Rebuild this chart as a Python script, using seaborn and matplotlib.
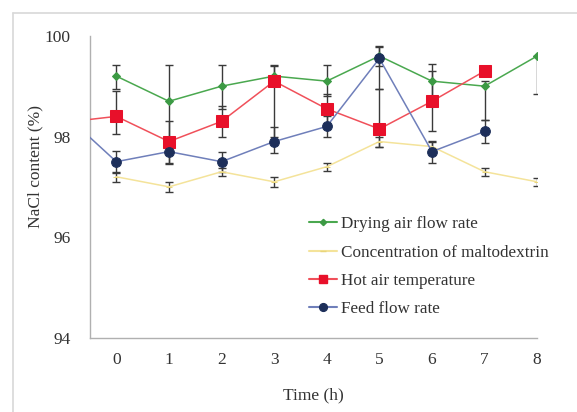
import numpy as np
import pandas as pd
import seaborn as sns
from matplotlib import pyplot as plt
from matplotlib.lines import Line2D

# time points (h); -1 is only there so red/blue lines run in from the left edge
time = [-1, 0, 1, 2, 3, 4, 5, 6, 7, 8]

drying_air = [np.nan, 99.2, 98.7, 99.0, 99.2, 99.1, 99.6, 99.1, 99.0, 99.6]
drying_lo = [0, 0.25, 0.72, 0.45, 0.2, 0.3, 0.2, 0.35, 0.68, 0.75]
drying_hi = [0, 0.22, 0.72, 0.42, 0.22, 0.32, 0.2, 0.34, 0.1, 0.0]

maltodextrin = [np.nan, 97.2, 97.0, 97.3, 97.1, 97.4, 97.9, 97.8, 97.3, 97.1]
malto_err = [0, 0.1, 0.1, 0.08, 0.1, 0.08, 0.1, 0.1, 0.08, 0.08]

hot_air = [98.28, 98.4, 97.9, 98.3, 99.1, 98.55, 98.15, 98.7, 99.3, np.nan]
hot_lo = [0, 0.35, 0.42, 0.3, 1.1, 0.3, 0.35, 0.6, 0.1, 0]
hot_hi = [0, 0.5, 0.4, 0.3, 0.3, 0.3, 0.8, 0.6, 0.1, 0]

feed_flow = [98.46, 97.5, 97.7, 97.5, 97.9, 98.2, 99.55, 97.7, 98.1, np.nan]
feed_lo = [0, 0.22, 0.25, 0.2, 0.22, 0.2, 0.6, 0.22, 0.22, 0]
feed_hi = [0, 0.22, 0.2, 0.2, 0.28, 0.2, 0.22, 0.22, 0.22, 0]

labels = ['Drying air flow rate', 'Concentration of maltodextrin',
          'Hot air temperature', 'Feed flow rate']

sns.set_style("white")
plt.rcParams['font.family'] = ['Liberation Serif', 'DejaVu Serif']

fig = plt.figure(figsize=(5.77, 4.12), dpi=100)
ax = fig.add_axes([0.156, 0.180, 0.775, 0.733])

series = [
    (labels[0], drying_air, drying_lo, drying_hi, '#4aa84f', '#3c9a44', 'D', 4),
    (labels[1], maltodextrin, malto_err, malto_err, '#f4e39a', '#e9d57a', '_', 5),
    (labels[2], hot_air, hot_lo, hot_hi, '#f0505a', '#e8102a', 's', 8),
    (labels[3], feed_flow, feed_lo, feed_hi, '#6f7fba', '#1d2f5a', 'o', 7),
]

handles = []
for name, vals, lo, hi, lc, mc, mk, ms in series:
    df = pd.DataFrame({'time': time, 'val': vals, 'lo': lo, 'hi': hi}).dropna()
    ax.errorbar(df.time, df.val, yerr=[df.lo, df.hi], fmt='none',
                ecolor='#3a3a3a', elinewidth=1.0, capsize=3, capthick=1.0, zorder=2)
    sns.lineplot(ax=ax, x=df.time, y=df.val, color=lc, linewidth=1.1,
                 marker=mk, markersize=ms, markerfacecolor=mc,
                 markeredgecolor=mc, zorder=3)
    handles.append(Line2D([], [], color=lc, linewidth=1.5, marker=mk,
                          markersize=ms * 0.8, markerfacecolor=mc,
                          markeredgecolor=mc))

ax.set_xlim(-0.5, 8)
ax.set_ylim(94, 100)
ax.set_xticks(range(0, 9))
ax.set_yticks([94, 96, 98, 100])
ax.set_xlabel('Time (h)', fontsize=12.5, color='#333333', labelpad=14)
ax.set_ylabel('NaCl content (%)', fontsize=12.5, color='#333333')
ax.yaxis.set_label_coords(-0.105, 0.566)
ax.tick_params(axis='both', labelsize=12.5, colors='#333333', length=3,
               width=0.8, direction='out', pad=7)
ax.tick_params(axis='y', pad=11)
ax.tick_params(axis='both', color='#b0b0b0')
sns.despine(ax=ax)
for side in ['left', 'bottom']:
    ax.spines[side].set_color('#b0b0b0')
    ax.spines[side].set_linewidth(1.0)

ax.legend(handles, labels, loc='upper left', bbox_to_anchor=(0.475, 0.425),
          frameon=False, fontsize=12.3, labelspacing=0.72, handlelength=1.6,
          handletextpad=0.25, borderaxespad=0, labelcolor='#333333')

# light frame around the whole picture
fig.add_artist(Line2D([13 / 577, 13 / 577], [0, 1 - 13 / 412],
                      transform=fig.transFigure, color='#d8d8d8', linewidth=1.2))
fig.add_artist(Line2D([13 / 577, 1], [1 - 13 / 412, 1 - 13 / 412],
                      transform=fig.transFigure, color='#d8d8d8', linewidth=1.2))

fig.savefig('out.png', dpi=100)
